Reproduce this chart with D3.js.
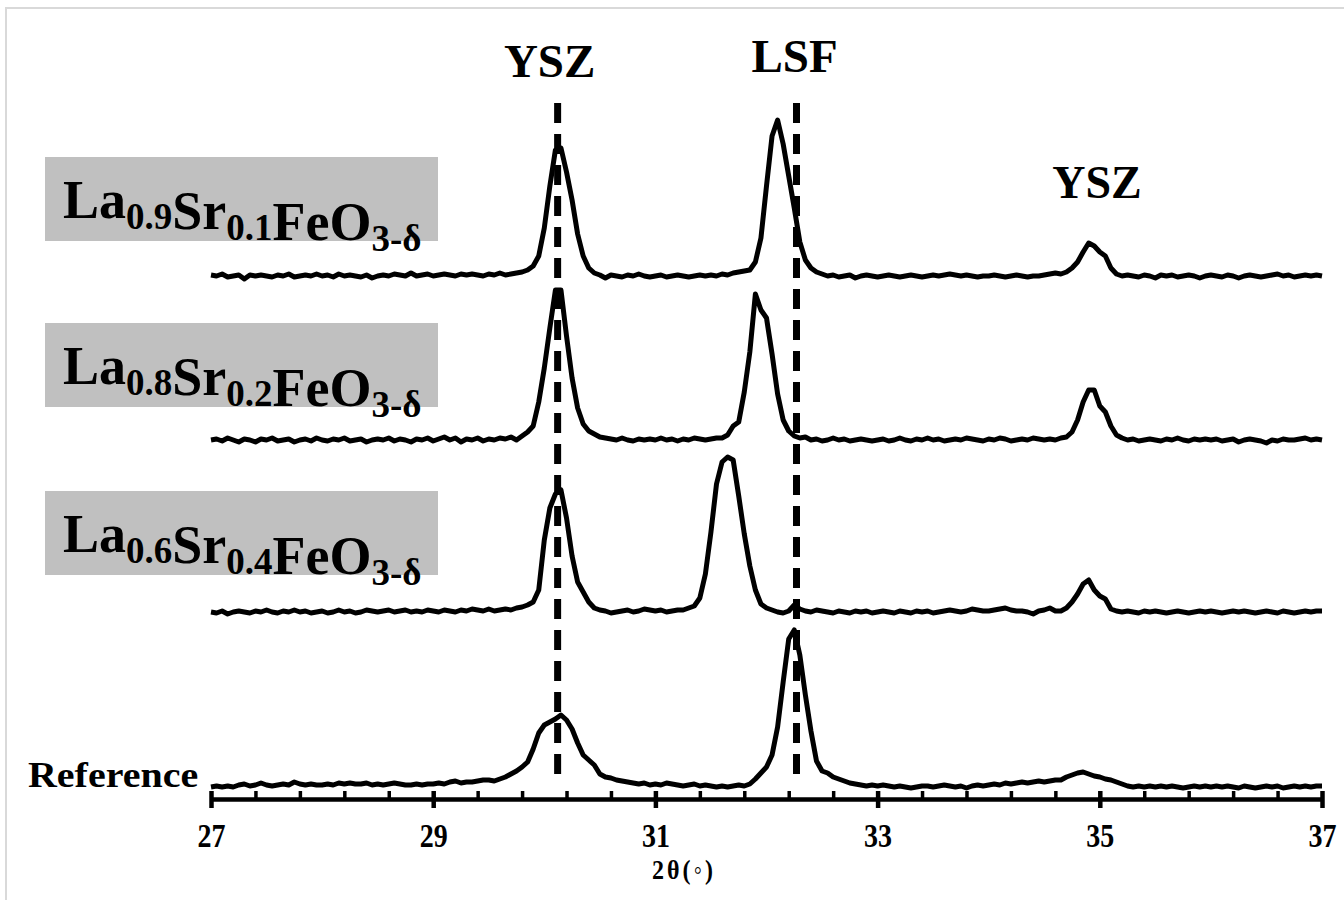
<!DOCTYPE html>
<html>
<head>
<meta charset="utf-8">
<script src="https://cdn.jsdelivr.net/npm/d3@7"></script>
<style>
	body{margin:0;background:#ffffff;}
	#xrdwrap svg{display:block;font-family:"Liberation Serif","Times New Roman",serif;font-weight:bold;}
</style>
</head>
<body>
<div id="xrdwrap"></div>
<script>
//diffraction patterns, intensity (a.u.) above each pattern's background, sampled every 0.05 deg from 27 to 37
var lsf91 = [
	1,0,2,-1,0,1,-3,1,0,1, 0,-1,1,0,2,-1,0,1,0,2,
	0,1,-1,2,0,1,0,-1,1,-2, 0,1,0,2,1,0,3,0,1,2,
	0,1,2,1,0,2,1,2,1,0, 2,1,3,1,2,3,4,6,10,20,
	48,90,126,128,104,76,42,20,8,3, 1,-2,1,0,-1,1,0,2,0,-1,
	0,1,-1,0,1,0,-1,0,1,0, 1,0,2,1,3,4,5,6,14,38,
	90,140,156,132,100,68,34,16,8,4, 2,0,1,-1,0,1,-2,0,1,0,
	-1,0,1,0,-1,0,1,0,-1,0, 1,0,1,2,1,0,1,0,-1,0,
	0,1,0,-1,0,1,0,-1,0,0, 1,2,3,2,4,8,14,24,33,30,
	24,20,8,2,0,1,0,-1,1,0, -2,1,0,1,-1,0,1,0,-2,0,
	1,0,-1,1,0,-2,0,1,0,-1, 0,1,2,0,1,-1,0,1,0,1,
	0
];
var lsf82 = [
	0,1,-1,2,0,-2,1,0,-2,1, 0,2,-1,0,1,-2,0,1,-1,2,
	0,-1,1,0,2,-1,0,1,-2,0, 1,0,2,-1,1,0,-2,1,0,2,
	-1,1,3,0,2,-2,1,0,2,-1, 1,0,2,1,3,0,4,8,14,38,
	72,112,150,150,104,62,32,16,9,6, 3,2,1,0,2,0,-1,1,0,1,
	0,2,0,1,-1,1,0,2,1,0, 1,2,2,5,14,18,48,88,146,130,
	122,86,46,20,9,4,2,3,0,1, -1,0,2,0,1,-1,0,1,0,-1,
	0,1,-1,0,2,0,-1,1,0,2, 0,1,-1,0,1,0,2,1,0,-1,
	1,0,2,1,-1,0,1,0,2,1, 0,1,0,2,3,8,20,38,50,50,
	34,28,14,5,2,0,1,-1,0,1, 0,-1,1,0,2,0,-1,1,0,1,
	0,1,-1,0,1,-2,0,1,0,-1, -3,0,-1,1,0,0,1,2,0,1,
	0
];
var lsf64 = [
	0,-1,1,-2,0,1,0,-1,1,0, 2,0,-1,1,0,2,0,1,-1,0,
	1,-1,0,2,0,1,-1,0,2,1, 0,1,2,0,1,2,0,1,0,2,
	1,0,2,1,0,2,1,3,2,1, 3,1,2,3,2,4,5,7,10,22,
	72,104,118,122,94,56,30,20,10,4, 2,1,-1,0,1,2,0,1,3,2,
	1,2,0,1,2,2,4,6,14,38, 80,128,150,155,152,116,78,46,22,8,
	4,2,0,-1,1,7,3,1,0,2, 1,0,-1,1,0,-1,1,0,1,-1,
	0,1,0,-1,1,0,-1,1,0,1, -1,0,1,2,1,0,1,3,2,1,
	1,2,3,4,2,1,1,0,-2,1, 2,4,1,1,4,10,18,28,32,22,
	16,13,3,1,0,1,0,-1,1,0, 1,0,-1,0,1,0,-1,0,1,0,
	1,0,-1,0,1,0,1,0,-1,0, 1,0,-1,1,0,-1,0,1,0,1,
	1
];
var reference = [
	0,1,0,1,0,2,3,1,2,4, 2,1,2,3,2,5,3,2,3,2,
	2,3,2,4,3,4,3,3,4,2, 3,2,3,4,3,2,2,3,2,3,
	3,4,3,5,6,4,5,5,6,7, 7,6,8,10,13,16,20,25,38,54,
	62,65,68,72,67,58,44,32,27,22, 13,10,9,7,6,5,4,3,4,2,
	3,2,4,3,2,1,2,3,1,2, 1,0,1,0,1,2,1,3,8,14,
	20,32,60,105,148,157,132,92,56,26, 16,14,10,8,6,4,3,2,1,2,
	1,2,1,0,1,0,-1,0,1,1, 0,1,2,1,0,1,-1,1,2,1,
	2,3,2,4,3,4,5,4,5,6, 5,6,7,7,10,12,14,15,13,11,
	10,8,7,5,3,1,0,1,0,1, 0,1,0,1,0,-1,0,1,0,1,
	0,1,0,1,0,-1,1,0,-1,0, 1,0,1,-1,0,1,0,1,0,1,
	1
];

//vertical stacking offset of each pattern (a.u.)
var offsets = [521, 357, 185, 10];

//sample labels: [text, subscript] pieces
var sampleLabels = [
	[["La","0.9"],["Sr","0.1"],["FeO","3-\u03b4"]],
	[["La","0.8"],["Sr","0.2"],["FeO","3-\u03b4"]],
	[["La","0.6"],["Sr","0.4"],["FeO","3-\u03b4"]]
];

//reference peak positions (2theta) marked by dashed lines
var markerPos = [30.12, 32.27];
var markerText = ["YSZ", "LSF"];

//small YSZ reflection label
var yszPeak = [34.92, "YSZ"];

var majorTicks = [27, 29, 31, 33, 35, 37];
var minorTicks = [27.4, 27.8, 28.2, 28.6, 29.4, 29.8, 30.2, 30.6, 31.4, 31.8, 32.2, 32.6,
	33.4, 33.8, 34.2, 34.6, 35.4, 35.8, 36.2, 36.6];

(function(){

	var dom = {};
	var W = 1344, H = 900;

	dom.svg = d3.select("#xrdwrap").append("svg").attr("width", W).attr("height", H);

	//light frame around the figure
	dom.svg.append("rect")
		.attr("x", 6).attr("y", 8).attr("width", W + 50).attr("height", H + 50)
		.attr("fill", "none").attr("stroke", "#d9d9d9").attr("stroke-width", 2);

	var x = d3.scaleLinear().domain([27, 37]).range([211, 1322]);
	var y = d3.scaleLinear().domain([0, 700]).range([797, 97]);

	var twoTheta = reference.map(function(d, i){return 27 + i * 0.05});
	var patterns = [lsf91, lsf82, lsf64, reference];

	//grey boxes with the compositions
	var boxTop = [157, 323, 491];
	var labels = dom.svg.append("g").selectAll("g").data(sampleLabels).enter().append("g")
		.attr("transform", function(d, i){return "translate(45," + boxTop[i] + ")"});

	labels.append("rect")
		.attr("width", 393).attr("height", 84)
		.attr("fill", "#c0c0c0");

	labels.append("text")
		.attr("x", 18).attr("y", 61)
		.each(function(d){
			var t = d3.select(this);
			d.forEach(function(p){
				t.append("tspan").attr("font-size", 54).text(p[0]);
				t.append("tspan").attr("font-size", 37).attr("dy", 11).text(p[1]);
				t.append("tspan").attr("font-size", 54).attr("dy", -11).text("");
			});
		});

	dom.svg.append("text")
		.attr("transform", "translate(28,787) scale(1,0.88)")
		.attr("font-size", 40)
		.text("Reference");

	//dashed reference lines
	dom.svg.append("g").selectAll("line").data(markerPos).enter().append("line")
		.attr("x1", function(d){return x(d)}).attr("x2", function(d){return x(d)})
		.attr("y1", 103).attr("y2", 784)
		.attr("stroke", "#000").attr("stroke-width", 7)
		.attr("stroke-dasharray", "20,11");

	dom.svg.append("g").selectAll("text").data(markerText).enter().append("text")
		.attr("x", function(d, i){return x(markerPos[i]) + (i === 0 ? -8 : -2)})
		.attr("y", function(d, i){return i === 0 ? 77 : 72})
		.attr("text-anchor", "middle")
		.attr("font-size", 47)
		.text(function(d){return d});

	dom.svg.append("text")
		.attr("x", x(yszPeak[0]) + 6).attr("y", 198)
		.attr("text-anchor", "middle")
		.attr("font-size", 46)
		.text(yszPeak[1]);

	//patterns
	var line = d3.line()
		.x(function(d){return x(d[0])})
		.y(function(d){return y(d[1])});

	dom.svg.append("g").selectAll("path").data(patterns).enter().append("path")
		.attr("d", function(d, k){
			return line(d.map(function(v, i){return [twoTheta[i], v + offsets[k]]}));
		})
		.attr("fill", "none")
		.attr("stroke", "#000")
		.attr("stroke-width", 5)
		.attr("stroke-linejoin", "round");

	//x axis: minor ticks point up, major ticks cross the line
	var axisY = 799;

	dom.svg.append("g")
		.attr("transform", "translate(0," + axisY + ")")
		.call(d3.axisTop(x).tickValues(minorTicks).tickSize(8).tickSizeOuter(0).tickFormat(""))
		.call(function(g){
			g.select(".domain").remove();
			g.selectAll(".tick line").attr("stroke-width", 3.5);
		});

	dom.svg.append("g")
		.attr("transform", "translate(0," + axisY + ")")
		.call(d3.axisBottom(x).tickValues(majorTicks).tickSizeInner(9).tickSizeOuter(0).tickFormat(d3.format("d")))
		.call(function(g){
			g.attr("font-family", null).attr("font-size", null);
			g.select(".domain").attr("stroke-width", 4.5);
			g.selectAll(".tick line").attr("y1", -8).attr("stroke-width", 4.5);
			g.selectAll(".tick text").attr("y", null).attr("dy", null)
				.attr("transform", "translate(0,48) scale(1,1.2)")
				.attr("font-size", 28).attr("fill", "#000");
		});

	dom.svg.append("text")
		.attr("transform", "translate(684,879) scale(1,1.15)")
		.attr("text-anchor", "middle")
		.attr("font-size", 24)
		.attr("letter-spacing", 3)
		.text("2\u03b8(\u25e6)");

})();
</script>
</body>
</html>
